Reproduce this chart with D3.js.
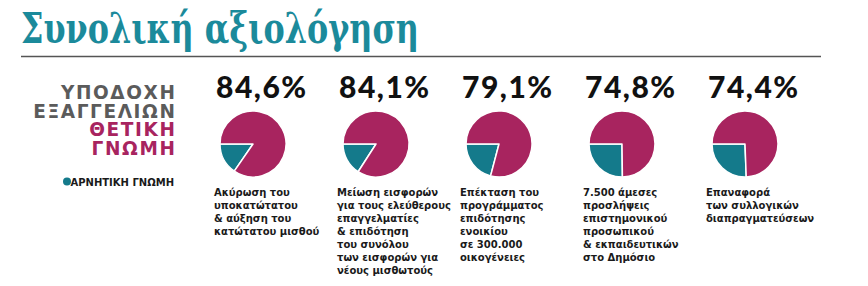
<!DOCTYPE html>
<html>
<head>
<meta charset="utf-8">
<script src="https://cdn.jsdelivr.net/npm/d3@7"></script>
<style>
  body { margin: 0; background: #fff; }
</style>
</head>
<body>
<script>
// categories (label lines) and positive-opinion shares
const categories = ['c1', 'c2', 'c3', 'c4', 'c5'];
const labelLines = [
  ['Ακύρωση του', 'υποκατώτατου', '& αύξηση του', 'κατώτατου μισθού'],
  ['Μείωση εισφορών', 'για τους ελεύθερους', 'επαγγελματίες', '& επιδότηση', 'του συνόλου', 'των εισφορών για', 'νέους μισθωτούς'],
  ['Επέκταση του', 'προγράμματος', 'επιδότησης', 'ενοικίου', 'σε 300.000', 'οικογένειες'],
  ['7.500 άμεσες', 'προσλήψεις', 'επιστημονικού', 'προσωπικού', '& εκπαιδευτικών', 'στο Δημόσιο'],
  ['Επαναφορά', 'των συλλογικών', 'διαπραγματεύσεων']
];
const positive = [84.6, 84.1, 79.1, 74.8, 74.4];
const legendLines = ['ΥΠΟΔΟΧΗ', 'ΕΞΑΓΓΕΛΙΩΝ', 'ΘΕΤΙΚΗ', 'ΓΝΩΜΗ'];

const width = 868;
const height = 286;
const purple = '#a8245f';
const teal = '#147a8b';

const svg = d3.select('body')
  .append('svg')
  .attr('width', width)
  .attr('height', height);

// title
svg.append('text')
  .attr('x', 21)
  .attr('y', 43)
  .attr('textLength', 398)
  .attr('lengthAdjust', 'spacingAndGlyphs')
  .style('font-family', '"DejaVu Serif", serif')
  .style('font-weight', 'bold')
  .style('font-size', '42px')
  .style('fill', '#1b8a9b')
  .text('Συνολική αξιολόγηση');

svg.append('line')
  .attr('x1', 21).attr('x2', 821)
  .attr('y1', 56.5).attr('y2', 56.5)
  .attr('stroke', '#555')
  .attr('stroke-width', 1.5);

// legend on the left
svg.append('g')
  .selectAll('text')
  .data(legendLines)
  .join('text')
  .attr('x', 176.5)
  .attr('y', (d, i) => 99 + i * 18.5)
  .attr('text-anchor', 'end')
  .style('font-family', '"DejaVu Sans", sans-serif')
  .style('font-weight', 'bold')
  .style('font-size', '18.5px')
  .style('letter-spacing', '1.6px')
  .style('fill', (d, i) => i < 2 ? '#5b5b5b' : purple)
  .text(d => d);

svg.append('circle')
  .attr('cx', 67).attr('cy', 181.5).attr('r', 4)
  .attr('fill', teal);

svg.append('text')
  .attr('x', 174)
  .attr('y', 185.5)
  .attr('text-anchor', 'end')
  .style('font-family', '"DejaVu Sans", sans-serif')
  .style('font-weight', 'bold')
  .style('font-size', '10px')
  .style('fill', '#1a1a1a')
  .text('ΑΡΝΗΤΙΚΗ ΓΝΩΜΗ');

// column scale
const x = d3.scalePoint()
  .domain(categories)
  .range([214, 706]);

const fmt = d3.formatLocale({ decimal: ',', thousands: '.', grouping: [3], currency: ['', '€'] }).format('.1f');

const radius = 33;
const arc = d3.arc().innerRadius(0).outerRadius(radius);

const cols = svg.append('g')
  .selectAll('g')
  .data(categories)
  .join('g')
  .attr('transform', d => `translate(${x(d)},0)`);

// big percentage
cols.append('text')
  .attr('x', 2)
  .attr('y', 98)
  .style('font-family', 'Lato, sans-serif')
  .style('font-weight', 900)
  .style('font-size', '30px')
  .style('letter-spacing', '1.5px')
  .style('fill', '#111')
  .text((d, i) => fmt(positive[i]) + '%');

// pies: negative slice ends at 9 o'clock, positive continues clockwise
cols.each(function(d, i) {
  const neg = 100 - positive[i];
  const start = 1.5 * Math.PI - (neg / 100) * 2 * Math.PI;
  const pie = d3.pie()
    .sort(null)
    .value(v => v.value)
    .startAngle(start)
    .endAngle(start + 2 * Math.PI);
  const slices = pie([{ key: 'neg', value: neg }, { key: 'pos', value: positive[i] }]);
  d3.select(this).append('g')
    .attr('transform', `translate(${radius + 6},144)`)
    .selectAll('path')
    .data(slices)
    .join('path')
    .attr('d', arc)
    .attr('fill', s => s.data.key === 'neg' ? teal : purple)
    .attr('stroke', '#fff')
    .attr('stroke-width', 1.5)
    .attr('stroke-linejoin', 'round');
});

// description lines
cols.append('g')
  .selectAll('text')
  .data((d, i) => labelLines[i])
  .join('text')
  .attr('x', 0)
  .attr('y', (d, j) => 196 + j * 13)
  .style('font-family', '"DejaVu Sans", sans-serif')
  .style('font-weight', 'bold')
  .style('font-size', '10px')
  .style('fill', '#1a1a1a')
  .text(d => d);
</script>
</body>
</html>
